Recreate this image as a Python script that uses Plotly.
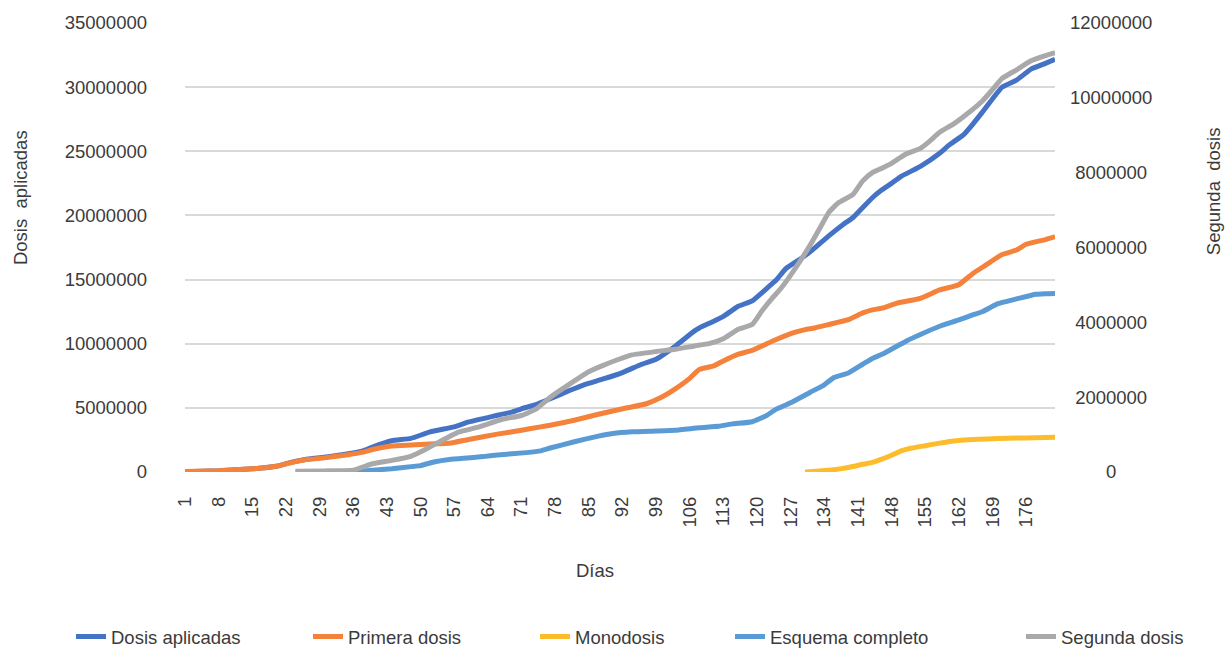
import plotly.graph_objects as go

# ---------------- data ----------------
dosis_days = [1, 8, 15, 20, 23, 26, 30, 35, 38, 40, 44, 48, 52, 57, 60, 65, 69, 71, 74, 77,
              81, 84, 88, 92, 96, 99, 103, 107, 108, 111, 113, 116, 119, 122, 124, 126, 129,
              131, 135, 138, 140, 144, 146, 148, 150, 154, 158, 160, 163, 165, 167, 171, 174,
              177, 180, 182]
dosis_aplicadas = [0.02, 0.10, 0.25, 0.45, 0.75, 0.98, 1.15, 1.42, 1.65, 1.95, 2.44, 2.62, 3.13,
                   3.52, 3.90, 4.34, 4.67, 4.93, 5.25, 5.71, 6.35, 6.80, 7.25, 7.75, 8.40, 8.79,
                   9.81, 11.00, 11.23, 11.75, 12.13, 12.90, 13.34, 14.30, 14.96, 15.85, 16.60,
                   17.14, 18.43, 19.32, 19.84, 21.38, 22.00, 22.50, 23.05, 23.82, 24.85, 25.50,
                   26.30, 27.16, 28.10, 30.00, 30.55, 31.40, 31.85, 32.17]

primera_days = [1, 8, 15, 20, 23, 26, 30, 35, 38, 40, 44, 48, 52, 56, 60, 66, 71, 75, 77, 82,
                87, 93, 97, 100, 103, 106, 108, 111, 113, 116, 119, 124, 128, 130, 132, 135,
                139, 142, 144, 146, 149, 154, 158, 162, 164, 165, 167, 171, 174, 176, 180, 182]
primera_dosis = [0.03, 0.10, 0.25, 0.45, 0.72, 0.95, 1.10, 1.35, 1.55, 1.75, 2.03, 2.10, 2.18,
                 2.24, 2.54, 2.95, 3.26, 3.52, 3.65, 4.03, 4.50, 5.01, 5.32, 5.80, 6.48, 7.30,
                 8.00, 8.27, 8.66, 9.17, 9.48, 10.33, 10.90, 11.10, 11.23, 11.50, 11.87, 12.40,
                 12.64, 12.77, 13.15, 13.54, 14.19, 14.60, 15.20, 15.50, 15.98, 16.95, 17.30,
                 17.75, 18.12, 18.35]

mono_days = [130, 133, 136, 139, 142, 144, 146, 148, 150, 152, 155, 158, 161, 164, 168, 172,
             176, 180, 182]
monodosis = [0.00, 0.08, 0.18, 0.35, 0.60, 0.75, 1.00, 1.30, 1.65, 1.85, 2.05, 2.25, 2.42,
             2.52, 2.58, 2.63, 2.66, 2.69, 2.70]

esquema_days = [24, 30, 36, 40, 44, 48, 50, 53, 56, 59, 63, 66, 72, 75, 77, 82, 87, 90, 94, 99,
                103, 108, 112, 115, 119, 122, 124, 127, 131, 134, 136, 139, 142, 144, 146, 151,
                154, 158, 162, 165, 167, 170, 172, 174, 178, 180, 182]
esquema_completo = [0.00, 0.03, 0.06, 0.14, 0.25, 0.42, 0.50, 0.80, 0.98, 1.08, 1.20, 1.33,
                    1.51, 1.65, 1.87, 2.36, 2.80, 3.00, 3.13, 3.20, 3.26, 3.45, 3.57, 3.75,
                    3.92, 4.40, 4.90, 5.40, 6.20, 6.80, 7.37, 7.72, 8.40, 8.85, 9.17, 10.20,
                    10.72, 11.36, 11.85, 12.26, 12.51, 13.10, 13.30, 13.49, 13.85, 13.90, 13.92]

segunda_days = [24, 30, 36, 40, 44, 48, 51, 54, 58, 62, 67, 71, 74, 77, 81, 85, 88, 91, 94, 99,
                103, 107, 110, 113, 116, 119, 121, 123, 125, 128, 131, 133, 135, 137, 140, 142,
                144, 146, 148, 151, 154, 156, 158, 161, 164, 167, 169, 171, 174, 177, 180, 182]
segunda_dosis = [0.02, 0.03, 0.05, 0.22, 0.31, 0.42, 0.60, 0.81, 1.07, 1.20, 1.41, 1.51, 1.68,
                 2.00, 2.35, 2.68, 2.85, 3.00, 3.13, 3.22, 3.28, 3.37, 3.43, 3.56, 3.81, 3.94,
                 4.30, 4.62, 4.91, 5.45, 6.05, 6.50, 6.95, 7.20, 7.42, 7.78, 8.00, 8.12, 8.25,
                 8.50, 8.65, 8.85, 9.08, 9.31, 9.60, 9.93, 10.22, 10.52, 10.75, 10.99, 11.13,
                 11.21]

x_ticks = list(range(1, 177, 7))
y1_ticks = [0, 5000000, 10000000, 15000000, 20000000, 25000000, 30000000, 35000000]
y2_ticks = [0, 2000000, 4000000, 6000000, 8000000, 10000000, 12000000]

MILLION = 1_000_000
FONT = "Liberation Sans, Arial, sans-serif"
FS = 18.5
TXT = "#3b3b3b"


def scale(vals):
    return [v * MILLION for v in vals]


def center_pad(s, n=8):
    # pad label so the labels look centred (figure space = digit width)
    missing = n - len(s)
    return "\u2007" * (missing // 2) + ("\u2008" if missing % 2 else "") + s


fig = go.Figure()
series = [
    ("Dosis aplicadas", dosis_days, dosis_aplicadas, "#4472C4", "y", "legend"),
    ("Primera dosis", primera_days, primera_dosis, "#F5823A", "y", "legend2"),
    ("Monodosis", mono_days, monodosis, "#FDBC2C", "y", "legend3"),
    ("Esquema completo", esquema_days, esquema_completo, "#5B9BD5", "y", "legend4"),
    ("Segunda dosis", segunda_days, segunda_dosis, "#A9A9AB", "y2", "legend5"),
]
for name, d, v, col, ax, lg in series:
    fig.add_trace(go.Scatter(
        x=d, y=scale(v), name=name, mode="lines", yaxis=ax, legend=lg,
        line=dict(color=col, width=5, shape="spline", smoothing=0.4),
    ))

legend_text_x = [71, 308, 535, 730, 1021]
legend_common = dict(orientation="h", xref="container", yref="container",
                     y=(654 - 637) / 654, yanchor="middle", xanchor="left",
                     font=dict(family=FONT, size=FS, color=TXT),
                     bgcolor="rgba(0,0,0,0)", borderwidth=0)
legends = {}
for i, lx in enumerate(legend_text_x):
    key = "legend" if i == 0 else f"legend{i + 1}"
    legends[key] = dict(x=lx / 1228, **legend_common)

fig.update_layout(
    width=1228, height=654,
    margin=dict(l=185, r=173, t=18, b=182),
    paper_bgcolor="white", plot_bgcolor="white",
    font=dict(family=FONT, size=FS, color=TXT),
    showlegend=True,
    xaxis=dict(range=[1, 182], tickmode="array", tickvals=x_ticks,
               ticktext=[str(t) for t in x_ticks], tickangle=-90,
               showgrid=False, zeroline=False, showline=False, ticks="",
               ticklabelstandoff=20,
               tickfont=dict(family=FONT, size=FS, color=TXT)),
    yaxis=dict(range=[0, 35 * MILLION], tickmode="array", tickvals=y1_ticks,
               ticktext=[str(t) for t in y1_ticks],
               showgrid=True, gridcolor="#D9D9D9", gridwidth=2,
               zeroline=False, showline=False, ticks="",
               ticklabelstandoff=37,
               tickfont=dict(family=FONT, size=FS, color=TXT)),
    yaxis2=dict(range=[0, 12 * MILLION], overlaying="y", side="right",
                tickmode="array", tickvals=y2_ticks,
                ticktext=[center_pad(str(t)) for t in y2_ticks],
                showgrid=False, zeroline=False, showline=False, ticks="",
                ticklabelstandoff=14,
                tickfont=dict(family=FONT, size=FS, color=TXT)),
    **legends,
    annotations=[
        dict(text="Dosis  aplicadas", textangle=-90, xref="paper", yref="paper",
             x=(20 - 185) / 870, y=(472 - 195) / 454, showarrow=False,
             xanchor="center", yanchor="middle",
             font=dict(family=FONT, size=FS, color=TXT)),
        dict(text="Segunda  dosis", textangle=-90, xref="paper", yref="paper",
             x=(1213 - 185) / 870, y=(472 - 188) / 454, showarrow=False,
             xanchor="center", yanchor="middle",
             font=dict(family=FONT, size=FS, color=TXT)),
        dict(text="Días", xref="paper", yref="paper",
             x=(595 - 185) / 870, y=(472 - 572) / 454, showarrow=False,
             xanchor="center", yanchor="middle",
             font=dict(family=FONT, size=FS, color=TXT)),
    ],
)

fig.write_html("out.html")
